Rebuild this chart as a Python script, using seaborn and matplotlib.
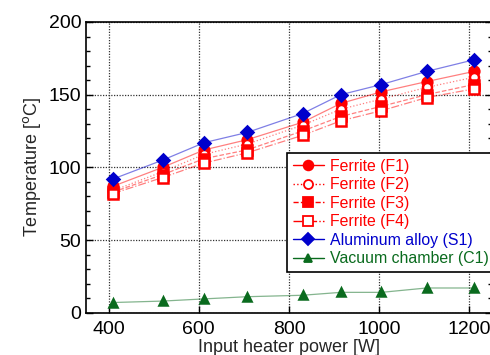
import matplotlib
matplotlib.use("Agg")
import matplotlib.pyplot as plt
import seaborn as sns
import pandas as pd
from matplotlib.lines import Line2D
from matplotlib.ticker import MultipleLocator

power = [410, 520, 612, 707, 830, 915, 1005, 1105, 1210]
f1 = [87, 100, 112, 119, 131, 144, 152, 159, 166]
f2 = [84, 97, 109, 116, 129, 140, 147, 155, 162]
f3 = [83, 95, 106, 112, 125, 135, 142, 150, 157]
f4 = [82, 93, 103, 110, 122, 132, 139, 148, 154]
s1 = [92, 105, 117, 124, 137, 150, 157, 166, 174]
c1 = [7, 8, 9.5, 11, 12, 14, 14, 17, 17]

names = ["Ferrite (F1)", "Ferrite (F2)", "Ferrite (F3)", "Ferrite (F4)",
         "Aluminum alloy (S1)", "Vacuum chamber (C1)"]
series = [f1, f2, f3, f4, s1, c1]

sns.set_style("ticks")
plt.rcParams['font.family'] = ['Liberation Sans', 'DejaVu Sans']

red = "#ff0000"
blue = "#0000cc"
green = "#0a6b1e"
styles = [
    dict(color=red, ls="-", marker="o", mfc=red, mec=red, ms=7),
    dict(color=red, ls=":", marker="o", mfc="white", mec=red, ms=6.5),
    dict(color=red, ls="--", marker="s", mfc=red, mec=red, ms=6.5),
    dict(color=red, ls="-.", marker="s", mfc="white", mec=red, ms=6.5),
    dict(color=blue, ls="-", marker="D", mfc=blue, mec=blue, ms=6),
    dict(color=green, ls="-", marker="^", mfc=green, mec=green, ms=6),
]

fig = plt.figure(figsize=(4.9, 3.55), dpi=100)
ax = fig.add_axes([86/490, (355-312.7)/355, (492-86)/490, (312.7-22)/355])

handles = []
for name, vals, st in zip(names, series, styles):
    df = pd.DataFrame({"x": power, "y": vals})
    sns.lineplot(data=df, x="x", y="y", ax=ax, color=st["color"], linestyle=st["ls"],
                 linewidth=0.9, alpha=0.5, legend=False)
    ax.plot(df["x"], df["y"], linestyle="none", marker=st["marker"], ms=st["ms"],
            mfc=st["mfc"], mec=st["mec"], mew=1.8, zorder=3)
    handles.append(Line2D([], [], color=st["color"], linestyle=st["ls"], linewidth=1.0,
                          marker=st["marker"], ms=st["ms"], mfc=st["mfc"],
                          mec=st["mec"], mew=1.3))

ax.set_xlim(350, 1250)
ax.set_ylim(0, 200)
ax.xaxis.set_major_locator(MultipleLocator(200))
ax.yaxis.set_major_locator(MultipleLocator(50))
ax.yaxis.set_minor_locator(MultipleLocator(10))
ax.tick_params(axis="both", which="both", direction="in", right=True, top=False,
               labelsize=14, colors="black")
ax.tick_params(axis="both", which="major", length=5, width=1)
ax.tick_params(axis="y", which="minor", length=3, width=1)
ax.tick_params(axis="x", which="major", pad=6)
for sp in ax.spines.values():
    sp.set_visible(True)
    sp.set_color("black")
    sp.set_linewidth(1.2)
ax.grid(True, which="major", color="#333333", linestyle=(0, (1, 1.2)), linewidth=0.9)
ax.set_axisbelow(True)

ax.set_xlabel("Input heater power [W]", fontsize=13, labelpad=1)
ax.set_ylabel("Temperature [$^{\\mathrm{o}}$C]", fontsize=13, labelpad=4)

leg = ax.legend(handles, names, loc="upper left", bbox_to_anchor=(0.495, 0.548),
                frameon=True, fancybox=False, framealpha=1, edgecolor="black",
                fontsize=11.4, handlelength=2.0, handletextpad=0.35, labelspacing=0.22,
                borderpad=0.35, borderaxespad=0)
leg.get_frame().set_linewidth(1.2)
for txt, st in zip(leg.get_texts(), styles):
    txt.set_color(st["color"])

fig.savefig("out.png", dpi=100)
